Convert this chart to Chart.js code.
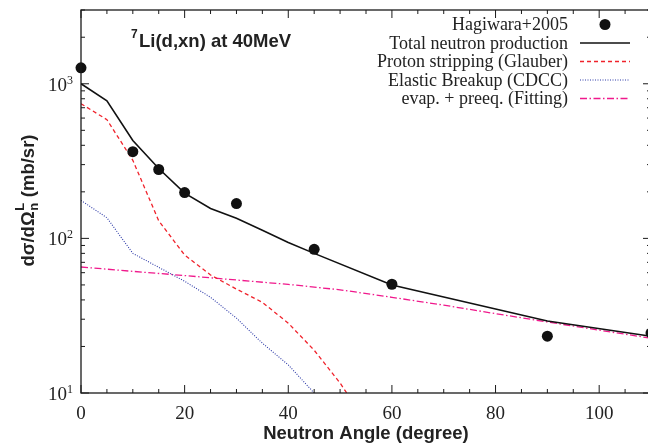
<!DOCTYPE html>
<html>
<head>
<meta charset="utf-8">
<script src="https://cdn.jsdelivr.net/npm/chart.js@4.4.1/dist/chart.umd.min.js"></script>
<style>
  html, body { margin: 0; padding: 0; background: #fff; overflow: hidden; }
  #wrap { width: 660px; height: 444px; }
</style>
</head>
<body>
<div id="wrap"><canvas id="grafico" width="660" height="444"></canvas></div>
<script>
// Datos medidos (Hagiwara+2005)
const angulosExp = [0, 10, 15, 20, 30, 45, 60, 90, 110];
const valoresExp = [1268, 364, 279, 198, 168, 85, 50.5, 23.3, 24.4];

// Curvas teóricas
const angulosTotal = [0, 5, 10, 15, 20, 25, 30, 35, 40, 45, 60, 90, 110];
const valoresTotal = [1000, 777, 430, 283, 196, 156, 135, 113, 94, 80, 50, 29.2, 23.3];

const angulosProton = [0, 5, 10, 15, 20, 25, 30, 35, 40, 45, 50, 55];
const valoresProton = [743, 586, 320, 130, 78, 58, 47, 38.6, 28.3, 18.9, 11.6, 6.5];

const angulosBreakup = [0, 5, 10, 15, 20, 25, 30, 35, 40, 45, 50];
const valoresBreakup = [176, 136, 80, 65, 52.8, 41.6, 30.5, 21, 15.2, 10, 6.2];

const angulosEvap = [0, 10, 20, 30, 40, 50, 60, 70, 80, 90, 100, 110];
const valoresEvap = [65.3, 61.2, 57.5, 53.8, 50.4, 46.5, 41.6, 37.0, 32.6, 28.8, 25.5, 22.6];

// Ejes
const xTicks = [0, 20, 40, 60, 80, 100];
const xMinor = [5, 10, 15, 25, 30, 35, 45, 50, 55, 65, 70, 75, 85, 90, 95, 105, 110];
const yTicks = [10, 100, 1000];
const yExpon = ['1', '2', '3'];
const yMinor = [20, 30, 40, 50, 60, 70, 80, 90, 200, 300, 400, 500, 600, 700, 800, 900, 2000, 3000];

const puntos = (xs, ys) => xs.map((x, i) => ({ x, y: ys[i] }));

const SERIF = '"Liberation Serif", "Times New Roman", serif';
const SANS = '"Liberation Sans", Arial, sans-serif';

const marco = {
  id: 'marco',
  afterDraw(chart) {
    const { ctx, chartArea: a, scales } = chart;
    const sx = scales.x, sy = scales.y;
    ctx.save();
    ctx.strokeStyle = '#1a1a1a';
    ctx.lineWidth = 1.3;
    ctx.strokeRect(a.left, a.top, a.right - a.left, a.bottom - a.top);

    // ticks hacia adentro
    ctx.lineWidth = 1;
    ctx.beginPath();
    const tickX = (v, len) => {
      const px = sx.getPixelForValue(v);
      ctx.moveTo(px, a.bottom); ctx.lineTo(px, a.bottom - len);
      ctx.moveTo(px, a.top); ctx.lineTo(px, a.top + len);
    };
    const tickY = (v, len) => {
      const py = sy.getPixelForValue(v);
      ctx.moveTo(a.left, py); ctx.lineTo(a.left + len, py);
      ctx.moveTo(a.right, py); ctx.lineTo(a.right - len, py);
    };
    xTicks.forEach(v => tickX(v, 8));
    xMinor.forEach(v => tickX(v, 4));
    yTicks.forEach(v => tickY(v, 8));
    yMinor.forEach(v => tickY(v, 4));
    ctx.stroke();

    // etiquetas eje x
    ctx.fillStyle = '#222';
    ctx.font = '19px ' + SERIF;
    ctx.textAlign = 'center';
    ctx.textBaseline = 'alphabetic';
    xTicks.forEach(v => ctx.fillText(String(v), sx.getPixelForValue(v), 419));

    // etiquetas eje y: 10^n
    yTicks.forEach((v, i) => {
      const py = sy.getPixelForValue(v);
      ctx.font = '12px ' + SERIF;
      const we = ctx.measureText(yExpon[i]).width;
      ctx.textAlign = 'right';
      ctx.fillText(yExpon[i], 73, py);
      ctx.font = '19px ' + SERIF;
      ctx.fillText('10', 73 - we, py + 7);
    });

    // título del eje x
    ctx.font = 'bold 18.5px ' + SANS;
    ctx.textAlign = 'center';
    ctx.fillText('Neutron Angle (degree)', (a.left + a.right) / 2, 439);

    // título del eje y
    ctx.save();
    ctx.translate(34, 201);
    ctx.rotate(-Math.PI / 2);
    ctx.textAlign = 'left';
    ctx.font = 'bold 18.5px ' + SANS;
    const p1 = 'dσ/dΩ', p2 = ' (mb/sr)';
    const w1 = ctx.measureText(p1).width, w2 = ctx.measureText(p2).width;
    ctx.font = 'bold 13px ' + SANS;
    const ws = Math.max(ctx.measureText('n').width, ctx.measureText('L').width);
    let x0 = -(w1 + ws + w2) / 2;
    ctx.font = 'bold 18.5px ' + SANS;
    ctx.fillText(p1, x0, 0);
    ctx.font = 'bold 13px ' + SANS;
    ctx.fillText('n', x0 + w1 + 0.5, 4);
    ctx.fillText('L', x0 + w1 + 0.5, -10);
    ctx.font = 'bold 18.5px ' + SANS;
    ctx.fillText(p2, x0 + w1 + ws + 1, 0);
    ctx.restore();

    // título interior
    ctx.textAlign = 'left';
    ctx.font = 'bold 12px ' + SANS;
    ctx.fillText('7', 131, 38);
    ctx.font = 'bold 18.5px ' + SANS;
    ctx.fillText('Li(d,xn) at 40MeV', 139, 47);

    // leyenda
    const filas = [24.5, 43, 61.5, 80, 98.5];
    ctx.font = '18px ' + SERIF;
    ctx.textBaseline = 'middle';
    chart.data.datasets.forEach((ds, i) => {
      const y = filas[i];
      ctx.fillStyle = '#222';
      ctx.textAlign = 'right';
      ctx.fillText(ds.label, 568, y + 1);
      if (ds.showLine === false) {
        ctx.beginPath();
        ctx.arc(605, y, ds.pointRadius, 0, Math.PI * 2);
        ctx.fillStyle = ds.backgroundColor;
        ctx.fill();
      } else {
        ctx.save();
        ctx.strokeStyle = ds.borderColor;
        ctx.lineWidth = ds.borderWidth;
        ctx.setLineDash(ds.borderDash || []);
        ctx.beginPath();
        ctx.moveTo(580, y); ctx.lineTo(630, y);
        ctx.stroke();
        ctx.restore();
      }
    });
    ctx.restore();
  }
};

const linea = (label, xs, ys, color, width, dash) => ({
  label,
  data: puntos(xs, ys),
  borderColor: color,
  borderWidth: width,
  borderDash: dash,
  pointRadius: 0,
  fill: false,
  tension: 0,
});

new Chart(document.getElementById('grafico').getContext('2d'), {
  type: 'line',
  data: {
    datasets: [
      {
        label: 'Hagiwara+2005',
        data: puntos(angulosExp, valoresExp),
        showLine: false,
        pointRadius: 5.5,
        pointBorderWidth: 0,
        backgroundColor: '#111',
        borderColor: '#111',
        clip: false,
      },
      linea('Total neutron production', angulosTotal, valoresTotal, '#111', 1.6, []),
      linea('Proton stripping (Glauber)', angulosProton, valoresProton, '#f0222b', 1.3, [4, 3]),
      linea('Elastic Breakup (CDCC)', angulosBreakup, valoresBreakup, '#2d3aa8', 1.1, [1, 1.5]),
      linea('evap. + preeq. (Fitting)', angulosEvap, valoresEvap, '#f0198c', 1.3, [7, 2.5, 1.5, 2.5]),
    ]
  },
  options: {
    responsive: false,
    animation: false,
    layout: { padding: { top: 10, right: 9, left: 0, bottom: 0 } },
    plugins: { legend: { display: false }, tooltip: { enabled: false } },
    scales: {
      x: {
        type: 'linear', min: 0, max: 110,
        ticks: { display: false },
        grid: { display: false },
        border: { display: false },
        afterFit: s => { s.height = 51; }
      },
      y: {
        type: 'logarithmic', min: 10, max: 3000,
        ticks: { display: false },
        grid: { display: false },
        border: { display: false },
        afterFit: s => { s.width = 81; }
      }
    }
  },
  plugins: [marco]
});
</script>
</body>
</html>
